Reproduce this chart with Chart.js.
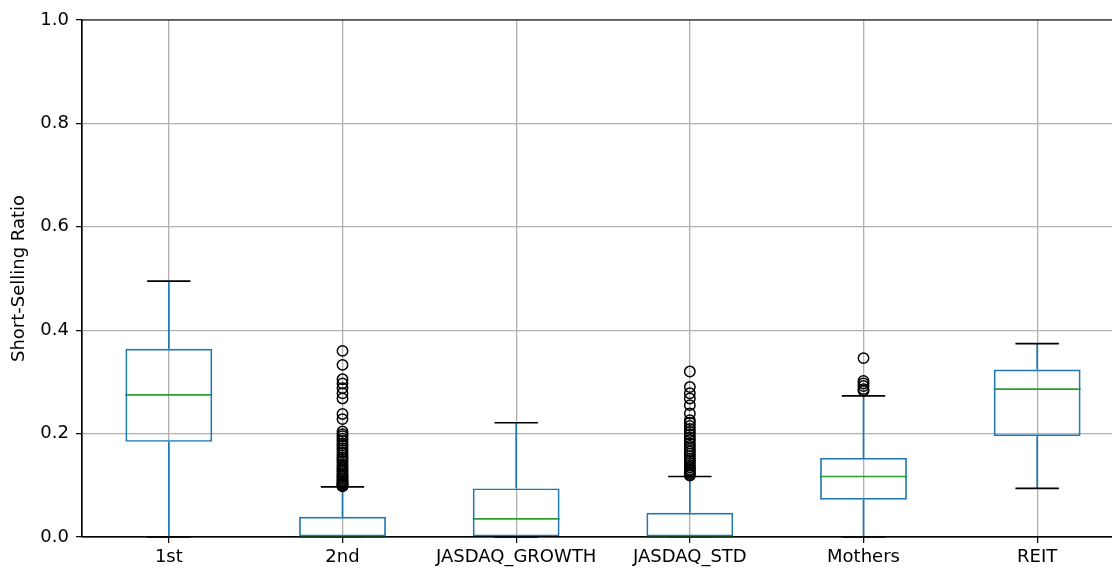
<!DOCTYPE html>
<html>
<head>
<meta charset="utf-8">
<script src="https://cdn.jsdelivr.net/npm/chart.js@4/dist/chart.umd.min.js"></script>
<style>
  html, body { margin: 0; padding: 0; background: #fff; overflow: hidden; }
  #wrap { width: 1112px; height: 568px; overflow: hidden; }
  canvas { display: block; }
</style>
</head>
<body>
<div id="wrap"><canvas id="c" width="1160" height="568"></canvas></div>
<script>
// ---- data ----
const categories = ['1st', '2nd', 'JASDAQ_GROWTH', 'JASDAQ_STD', 'Mothers', 'REIT'];
const whiskerLow  = [0.000, 0.000, 0.000, 0.000, 0.000, 0.094];
const q1          = [0.184, 0.000, 0.000, 0.000, 0.072, 0.195];
const median      = [0.275, 0.000, 0.035, 0.000, 0.117, 0.286];
const q3          = [0.364, 0.039, 0.094, 0.047, 0.153, 0.324];
const whiskerHigh = [0.495, 0.097, 0.221, 0.117, 0.273, 0.374];

const outliers2nd = [0.360, 0.333, 0.305, 0.297, 0.288, 0.278, 0.268, 0.238, 0.228,
  0.204, 0.199, 0.195, 0.190, 0.186, 0.181, 0.177, 0.172, 0.168, 0.163, 0.158, 0.154,
  0.150, 0.146, 0.141, 0.137, 0.133, 0.129, 0.126, 0.122, 0.119, 0.116, 0.113, 0.110,
  0.108, 0.105, 0.103, 0.101, 0.099, 0.098];
const outliersStd = [0.320, 0.290, 0.278, 0.268, 0.255, 0.239, 0.226, 0.221, 0.215,
  0.209, 0.203, 0.198, 0.192, 0.187, 0.181, 0.176, 0.171, 0.166, 0.161, 0.156, 0.151,
  0.147, 0.143, 0.139, 0.135, 0.131, 0.128, 0.125, 0.122, 0.119];
const outliersMothers = [0.346, 0.302, 0.297, 0.292, 0.286, 0.283];

const yTicks = [0.0, 0.2, 0.4, 0.6, 0.8, 1.0];
const yTitle = 'Short-Selling Ratio';

// ---- build datasets ----
const boxData = categories.map((c, i) => [q1[i], q3[i]]);
const outlierPoints = []
  .concat(outliers2nd.map(v => ({ x: categories[1], y: v })))
  .concat(outliersStd.map(v => ({ x: categories[3], y: v })))
  .concat(outliersMothers.map(v => ({ x: categories[4], y: v })));

const FONT = 'DejaVu Sans';
const FS = 18;
const LW = 1.7;

const boxPlugin = {
  id: 'boxParts',
  beforeDatasetsDraw(chart) {
    const ctx = chart.ctx;
    const xs = chart.scales.x, ys = chart.scales.y;
    const meta = chart.getDatasetMeta(0);
    const area = chart.chartArea;
    ctx.save();
    ctx.beginPath();
    ctx.rect(area.left, area.top - 2, area.right - area.left, area.bottom - area.top + 4);
    ctx.clip();
    ctx.lineWidth = LW;
    categories.forEach((c, i) => {
      const cx = xs.getPixelForValue(i);
      const w = meta.data[i].width;
      const capHalf = w / 4;
      const yLo = ys.getPixelForValue(whiskerLow[i]);
      const yQ1 = ys.getPixelForValue(q1[i]);
      const yQ3 = ys.getPixelForValue(q3[i]);
      const yHi = ys.getPixelForValue(whiskerHigh[i]);
      const yMed = ys.getPixelForValue(median[i]);
      // whiskers
      ctx.strokeStyle = '#1f77b4';
      ctx.beginPath();
      ctx.moveTo(cx, yQ1); ctx.lineTo(cx, yLo);
      ctx.moveTo(cx, yQ3); ctx.lineTo(cx, yHi);
      ctx.stroke();
      // caps
      ctx.strokeStyle = '#000000';
      ctx.beginPath();
      ctx.moveTo(cx - capHalf, yLo); ctx.lineTo(cx + capHalf, yLo);
      ctx.moveTo(cx - capHalf, yHi); ctx.lineTo(cx + capHalf, yHi);
      ctx.stroke();
      // median
      ctx.strokeStyle = '#2ca02c';
      ctx.beginPath();
      ctx.moveTo(cx - w / 2, yMed); ctx.lineTo(cx + w / 2, yMed);
      ctx.stroke();
    });
    ctx.restore();
  },
  afterDatasetsDraw(chart) {
    const ctx = chart.ctx;
    const a = chart.chartArea;
    ctx.save();
    ctx.strokeStyle = '#000000';
    ctx.lineWidth = 1.2;
    ctx.beginPath();
    ctx.moveTo(a.left, a.top); ctx.lineTo(a.right, a.top);
    ctx.moveTo(a.left, a.top); ctx.lineTo(a.left, a.bottom);
    ctx.moveTo(a.left, a.bottom); ctx.lineTo(a.right, a.bottom);
    ctx.stroke();
    ctx.restore();
  }
};

new Chart(document.getElementById('c'), {
  type: 'bar',
  data: {
    labels: categories,
    datasets: [
      {
        type: 'bar',
        data: boxData,
        backgroundColor: 'rgba(0,0,0,0)',
        borderColor: '#1f77b4',
        borderWidth: LW,
        borderSkipped: false,
        barPercentage: 0.5,
        categoryPercentage: 1.0,
        order: 2
      },
      {
        type: 'line',
        data: outlierPoints,
        showLine: false,
        pointStyle: 'circle',
        pointRadius: 5.2,
        pointBorderWidth: 1.5,
        pointBorderColor: '#000000',
        pointBackgroundColor: 'rgba(0,0,0,0)',
        order: 1
      }
    ]
  },
  options: {
    responsive: false,
    animation: false,
    devicePixelRatio: 1,
    layout: { padding: { top: 20, right: 36, bottom: 0, left: 0 } },
    plugins: { legend: { display: false }, tooltip: { enabled: false } },
    scales: {
      x: {
        type: 'category',
        offset: true,
        grid: { offset: false, color: '#b0b0b0', lineWidth: 1.3, tickColor: '#000000', tickLength: 6, tickWidth: 1.2, drawTicks: true },
        border: { display: true, color: '#000000', width: 1.2 },
        ticks: { color: '#000000', font: { family: FONT, size: FS }, padding: 4, maxRotation: 0, autoSkip: false },
        afterFit(s) { s.height = 31; }
      },
      y: {
        min: 0, max: 1,
        afterBuildTicks(s) { s.ticks = yTicks.map(v => ({ value: v })); },
        grid: { color: '#b0b0b0', lineWidth: 1.3, tickColor: '#000000', tickLength: 6, tickWidth: 1.2 },
        border: { display: true, color: '#000000', width: 1.2 },
        ticks: { color: '#000000', font: { family: FONT, size: FS }, padding: 7, callback: v => Number(v).toFixed(1) },
        title: { display: true, text: yTitle, color: '#000000', font: { family: FONT, size: FS }, padding: { top: 9, bottom: 0 } },
        afterFit(s) { s.width = 82; }
      }
    }
  },
  plugins: [boxPlugin]
});
</script>
</body>
</html>
